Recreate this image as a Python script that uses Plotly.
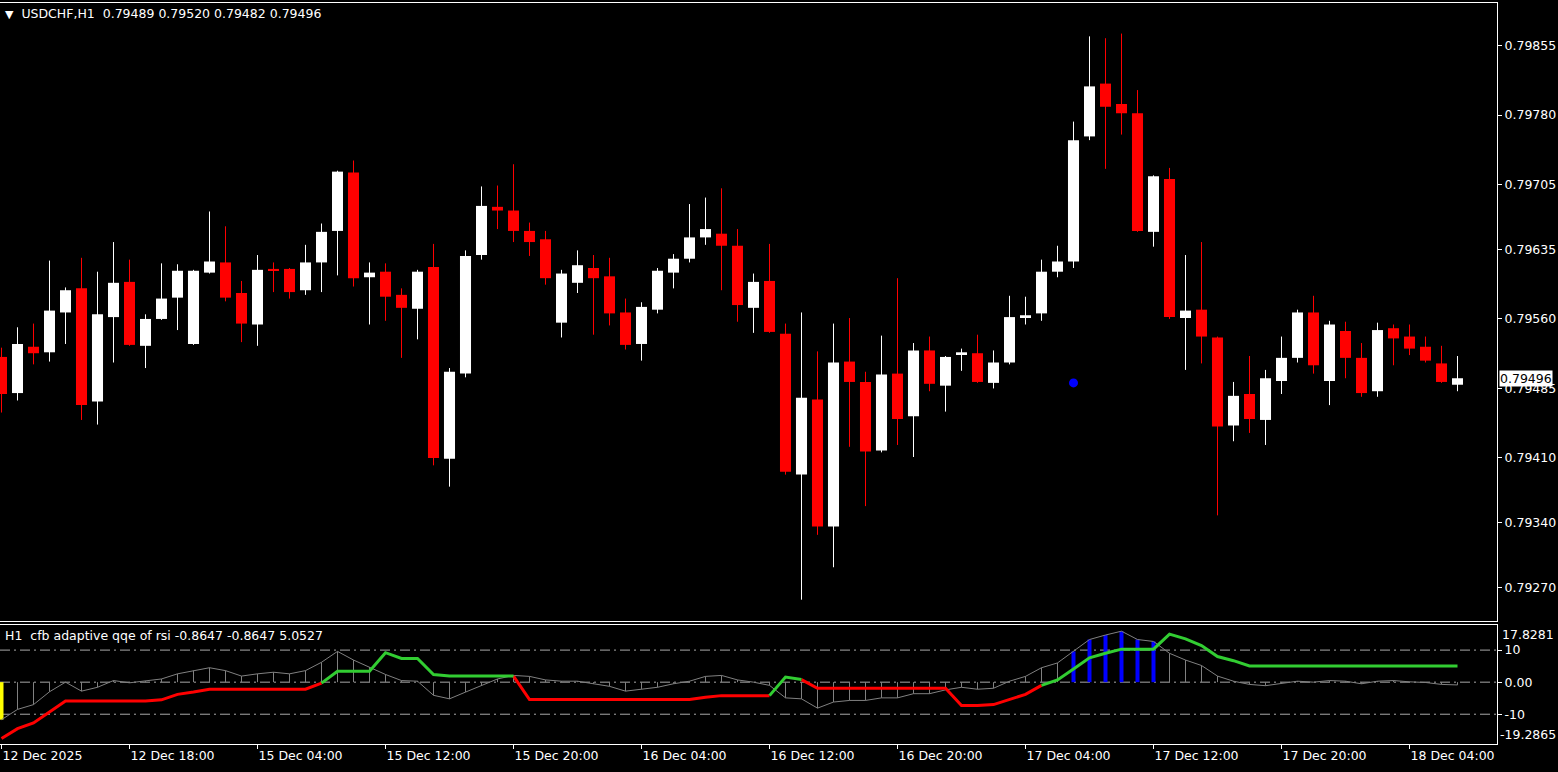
import plotly.graph_objects as go

# ---------------- data ----------------
symbol = "USDCHF"
timeframe = "H1"

open_ = [0.79519, 0.79480, 0.79530, 0.79524, 0.79567, 0.79593, 0.79471, 0.79562, 0.79600, 0.79531,
         0.79560, 0.79583, 0.79533, 0.79610, 0.79621, 0.79588, 0.79554, 0.79614, 0.79614, 0.79591,
         0.79621, 0.79655, 0.79718, 0.79605, 0.79611, 0.79586, 0.79571, 0.79616, 0.79409, 0.79501,
         0.79629, 0.79681, 0.79677, 0.79655, 0.79646, 0.79556, 0.79599, 0.79615, 0.79606, 0.79567,
         0.79533, 0.79570, 0.79610, 0.79625, 0.79648, 0.79652, 0.79639, 0.79572, 0.79601, 0.79544,
         0.79392, 0.79473, 0.79336, 0.79514, 0.79492, 0.79418, 0.79501, 0.79455, 0.79526, 0.79488,
         0.79522, 0.79523, 0.79491, 0.79513, 0.79562, 0.79566, 0.79611, 0.79622, 0.79757, 0.79814,
         0.79792, 0.79782, 0.79654, 0.79711, 0.79561, 0.79570, 0.79540, 0.79445, 0.79479, 0.79451,
         0.79493, 0.79518, 0.79567, 0.79493, 0.79547, 0.79518, 0.79482, 0.79550, 0.79541, 0.79530,
         0.79512, 0.79489]

high = [0.79529, 0.79551, 0.79555, 0.79623, 0.79594, 0.79626, 0.79611, 0.79643, 0.79624, 0.79565,
        0.79620, 0.79619, 0.79613, 0.79676, 0.79660, 0.79601, 0.79629, 0.79621, 0.79615, 0.79640,
        0.79663, 0.79720, 0.79731, 0.79621, 0.79620, 0.79593, 0.79613, 0.79641, 0.79507, 0.79634,
        0.79703, 0.79704, 0.79727, 0.79664, 0.79655, 0.79613, 0.79634, 0.79629, 0.79626, 0.79582,
        0.79578, 0.79615, 0.79630, 0.79684, 0.79691, 0.79701, 0.79657, 0.79609, 0.79641, 0.79555,
        0.79567, 0.79525, 0.79555, 0.79561, 0.79503, 0.79542, 0.79604, 0.79534, 0.79541, 0.79520,
        0.79528, 0.79543, 0.79526, 0.79585, 0.79584, 0.79624, 0.79639, 0.79773, 0.79865, 0.79863,
        0.79868, 0.79807, 0.79715, 0.79723, 0.79629, 0.79643, 0.79541, 0.79492, 0.79520, 0.79505,
        0.79541, 0.79570, 0.79585, 0.79558, 0.79557, 0.79534, 0.79556, 0.79554, 0.79554, 0.79541,
        0.79531, 0.79520]

low = [0.79459, 0.79472, 0.79511, 0.79514, 0.79533, 0.79451, 0.79446, 0.79513, 0.79531, 0.79507,
       0.79559, 0.79548, 0.79532, 0.79609, 0.79579, 0.79535, 0.79531, 0.79589, 0.79582, 0.79586,
       0.79589, 0.79607, 0.79595, 0.79554, 0.79558, 0.79518, 0.79538, 0.79402, 0.79379, 0.79497,
       0.79624, 0.79657, 0.79643, 0.79628, 0.79597, 0.79540, 0.79588, 0.79543, 0.79553, 0.79527,
       0.79515, 0.79566, 0.79593, 0.79621, 0.79640, 0.79591, 0.79557, 0.79545, 0.79545, 0.79392,
       0.79257, 0.79327, 0.79292, 0.79422, 0.79358, 0.79416, 0.79424, 0.79411, 0.79482, 0.79460,
       0.79504, 0.79491, 0.79485, 0.79511, 0.79554, 0.79558, 0.79605, 0.79615, 0.79753, 0.79722,
       0.79759, 0.79654, 0.79638, 0.79560, 0.79505, 0.79512, 0.79348, 0.79428, 0.79437, 0.79424,
       0.79479, 0.79513, 0.79501, 0.79467, 0.79496, 0.79476, 0.79476, 0.79510, 0.79521, 0.79513,
       0.79491, 0.79482]

close = [0.79479, 0.79533, 0.79523, 0.79569, 0.79591, 0.79467, 0.79565, 0.79599, 0.79532, 0.79560,
         0.79582, 0.79612, 0.79612, 0.79622, 0.79583, 0.79555, 0.79613, 0.79612, 0.79589, 0.79621,
         0.79654, 0.79719, 0.79604, 0.79610, 0.79584, 0.79572, 0.79611, 0.79410, 0.79503, 0.79628,
         0.79682, 0.79677, 0.79655, 0.79643, 0.79604, 0.79609, 0.79618, 0.79604, 0.79566, 0.79532,
         0.79573, 0.79612, 0.79625, 0.79648, 0.79657, 0.79639, 0.79575, 0.79600, 0.79546, 0.79395,
         0.79475, 0.79336, 0.79513, 0.79492, 0.79417, 0.79500, 0.79452, 0.79526, 0.79490, 0.79519,
         0.79524, 0.79492, 0.79513, 0.79562, 0.79564, 0.79611, 0.79622, 0.79753, 0.79811, 0.79789,
         0.79782, 0.79655, 0.79714, 0.79562, 0.79569, 0.79541, 0.79444, 0.79477, 0.79452, 0.79496,
         0.79518, 0.79567, 0.79510, 0.79554, 0.79518, 0.79480, 0.79548, 0.79539, 0.79528, 0.79515,
         0.79492, 0.79496]

# signal dot drawn on the price chart
signal_bar = [67]
signal_price = [0.79491]

# time axis labels (every 8th H1 bar)
time_label_bars = [0, 8, 16, 24, 32, 40, 48, 56, 64, 72, 80, 88]
time_labels = ["12 Dec 2025", "12 Dec 18:00", "15 Dec 04:00", "15 Dec 12:00", "15 Dec 20:00",
               "16 Dec 04:00", "16 Dec 12:00", "16 Dec 20:00", "17 Dec 04:00", "17 Dec 12:00",
               "17 Dec 20:00", "18 Dec 04:00"]

# price axis labels
price_labels = ["0.79855", "0.79780", "0.79705", "0.79635", "0.79560",
                "0.79485", "0.79410", "0.79340", "0.79270"]
price_scale = [0.79234, 0.79901]

# indicator: cfb adaptive qqe of rsi
qqe = [-11.7, -8.5, -7.0, -3.0, 0.0, -2.8, -1.6, 0.5, -0.2, 0.3,
       1.0, 2.6, 3.6, 4.5, 3.6, 1.9, 2.6, 3.1, 2.6, 3.6,
       6.2, 9.6, 6.9, 4.7, 2.4, 0.5, 0.3, -4.1, -5.2, -3.1,
       -1.0, 1.0, 2.1, 1.8, 0.7, 0.3, 0.3, -0.5, -1.3, -2.8,
       -2.1, -1.6, -0.5, 0.3, 1.8, 2.1, 0.7, 0.0, -1.0, -4.9,
       -5.2, -8.1, -6.2, -5.7, -5.7, -4.9, -4.9, -3.6, -3.6, -2.4,
       -1.6, -2.2, -1.9, 0.3, 1.8, 4.5, 6.0, 9.6, 13.3, 14.7,
       15.9, 13.3, 12.7, 9.0, 6.9, 5.2, 1.9, 0.3, -0.7, -1.1,
       -0.3, 0.3, 0.0, 0.5, 0.3, -0.5, 0.3, 0.5, 0.1, -0.1,
       -0.7, -0.8647]

trail = [-17.6, -14.5, -12.7, -9.3, -5.9, -5.9, -5.9, -5.9, -5.9, -5.9,
         -5.5, -3.8, -3.1, -2.2, -2.2, -2.2, -2.2, -2.2, -2.2, -2.2,
         -0.3, 3.4, 3.4, 3.4, 9.2, 7.4, 7.4, 2.4, 1.9, 1.9,
         1.9, 1.9, 1.9, -5.4, -5.4, -5.4, -5.4, -5.4, -5.4, -5.4,
         -5.4, -5.4, -5.4, -5.4, -4.7, -4.2, -4.2, -4.2, -4.2, 1.6,
         0.8, -1.9, -1.9, -1.9, -1.9, -1.9, -1.9, -1.9, -1.9, -1.9,
         -7.3, -7.3, -7.0, -5.5, -3.8, -1.0, 0.7, 4.1, 7.6, 9.0,
         10.3, 10.3, 10.3, 15.0, 13.5, 11.4, 8.0, 6.7, 5.0527,
         5.0527, 5.0527, 5.0527, 5.0527, 5.0527, 5.0527, 5.0527, 5.0527, 5.0527,
         5.0527, 5.0527, 5.0527, 5.0527]

# trend state of the trail segment ending at each bar (+1 up / -1 down)
trend = ([-1] * 21) + ([1] * 12) + ([-1] * 16) + ([1] * 2) + ([-1] * 15) + ([1] * 26)

strong_bars = [67, 68, 69, 70, 71, 72]   # histogram bars drawn in blue
start_bars = [0]                          # histogram bar drawn in yellow

levels = [10, 0, -10]
level_labels = ["10", "0.00", "-10"]
ind_scale = [-19.2865, 17.8281]

# ---------------- layout geometry ----------------
W, H = 1558, 772
m_l, m_r, m_t, m_b = 0, 61, 3, 28
plot_h = H - m_t - m_b
main_dom = [(744 - 621) / plot_h, 1.0]
ind_dom = [0.0, (744 - 625) / plot_h]
x_range = [-1.5 / 16, (1497 - 1.5) / 16]

FONT = "DejaVu Sans"
FS = 12.5
BULL = "#ffffff"
BEAR = "#ff0000"

n = len(close)
fig = go.Figure()

# ---------------- candles ----------------
for is_bull, col in ((True, BULL), (False, BEAR)):
    sel = [i for i in range(n) if (close[i] >= open_[i]) == is_bull]
    wx, wy = [], []
    for i in sel:
        wx += [i, i, None]
        wy += [low[i], high[i], None]
    fig.add_trace(go.Scatter(x=wx, y=wy, mode="lines", line=dict(color=col, width=1),
                             xaxis="x2", yaxis="y", hoverinfo="skip", showlegend=False))
    base = [min(open_[i], close[i]) for i in sel]
    hgt = [max(abs(close[i] - open_[i]), 0.000011) for i in sel]
    fig.add_trace(go.Bar(x=sel, y=hgt, base=base, width=0.69,
                         marker=dict(color=col, line=dict(width=0)),
                         xaxis="x2", yaxis="y", hoverinfo="skip", showlegend=False))

fig.add_trace(go.Scatter(x=signal_bar, y=signal_price, mode="markers",
                         marker=dict(color="#0000ff", size=9),
                         xaxis="x2", yaxis="y", hoverinfo="skip", showlegend=False))

# ---------------- indicator ----------------
def seg_trace(bars, color, width):
    xs, ys = [], []
    for i in bars:
        xs += [i, i, None]
        ys += [0, qqe[i], None]
    return go.Scatter(x=xs, y=ys, mode="lines", line=dict(color=color, width=width),
                      xaxis="x", yaxis="y2", hoverinfo="skip", showlegend=False)

gray_bars = [i for i in range(n) if i not in strong_bars and i not in start_bars]
fig.add_trace(seg_trace(gray_bars, "#808080", 1))
fig.add_trace(seg_trace(strong_bars, "#0000ff", 4))
fig.add_trace(seg_trace(start_bars, "#ffff00", 4))

fig.add_trace(go.Scatter(x=list(range(n)), y=qqe, mode="lines",
                         line=dict(color="#808080", width=1),
                         xaxis="x", yaxis="y2", hoverinfo="skip", showlegend=False))

for state, col in ((-1, "#ff0000"), (1, "#32cd32")):
    xs, ys = [], []
    i = 1
    while i < n:
        if trend[i] == state:
            j = i
            while j + 1 < n and trend[j + 1] == state:
                j += 1
            xs += list(range(i - 1, j + 1)) + [None]
            ys += trail[i - 1:j + 1] + [None]
            i = j + 1
        else:
            i += 1
    fig.add_trace(go.Scatter(x=xs, y=ys, mode="lines", line=dict(color=col, width=3),
                             xaxis="x", yaxis="y2", hoverinfo="skip", showlegend=False))

# level lines
for lv in levels:
    fig.add_shape(type="line", xref="x domain", yref="y2", x0=0, x1=1, y0=lv, y1=lv,
                  line=dict(color="#a8a8a8", width=1, dash="10px,4px,2px,4px"), layer="below")

# ---------------- axes ----------------
axis_common = dict(showgrid=False, zeroline=False, showline=True, mirror=True,
                   linecolor="#ffffff", linewidth=1, automargin=False,
                   tickfont=dict(family=FONT, size=FS, color="#ffffff"))

fig.update_layout(
    width=W, height=H,
    margin=dict(l=m_l, r=m_r, t=m_t, b=m_b, autoexpand=False),
    paper_bgcolor="#000000", plot_bgcolor="#000000",
    barmode="overlay", showlegend=False,
    xaxis=dict(domain=[0, 1], anchor="y2", range=x_range,
               tickvals=time_label_bars, ticktext=time_labels,
               ticks="outside", ticklen=4, tickcolor="#ffffff",
               ticklabelposition="outside right", **axis_common),
    xaxis2=dict(domain=[0, 1], anchor="y", matches="x", showticklabels=False, ticks="",
                **axis_common),
    yaxis=dict(domain=main_dom, anchor="x2", side="right", range=price_scale,
               tickvals=[float(s) for s in price_labels], ticktext=price_labels,
               ticks="outside", ticklen=4, tickcolor="#ffffff", **axis_common),
    yaxis2=dict(domain=ind_dom, anchor="x", side="right", range=ind_scale,
                tickvals=levels, ticktext=level_labels,
                ticks="outside", ticklen=4, tickcolor="#ffffff", **axis_common),
)

title_txt = ("<span style='font-size:11px'>\u25bc</span>\u00a0\u00a0" + f"{symbol},{timeframe}\u00a0\u00a0"
             + " ".join(f"{v:.5f}" for v in (open_[-1], high[-1], low[-1], close[-1])))
ind_txt = (f"{timeframe}\u00a0\u00a0cfb adaptive qqe of rsi {qqe[-1]:.4f} {qqe[-1]:.4f} {trail[-1]:.4f}")

fig.add_annotation(xref="paper", yref="paper", x=0, y=1, xanchor="left", yanchor="top",
                   xshift=3, yshift=-1, text=title_txt, showarrow=False,
                   font=dict(family=FONT, size=FS, color="#ffffff"))
fig.add_annotation(xref="paper", yref="paper", x=0, y=ind_dom[1], xanchor="left", yanchor="top",
                   xshift=3, yshift=-1, text=ind_txt, showarrow=False,
                   font=dict(family=FONT, size=FS, color="#ffffff"))
fig.add_annotation(xref="paper", yref="y2", x=1, y=ind_scale[1], xanchor="left", yanchor="top",
                   xshift=3, text=f"{ind_scale[1]:.4f}", showarrow=False,
                   font=dict(family=FONT, size=FS, color="#ffffff"))
fig.add_annotation(xref="paper", yref="y2", x=1, y=ind_scale[0], xanchor="left", yanchor="bottom",
                   xshift=1, text=f"{ind_scale[0]:.4f}", showarrow=False,
                   font=dict(family=FONT, size=FS, color="#ffffff"))
fig.add_annotation(xref="paper", yref="y", x=1, y=close[-1], xanchor="left", yanchor="middle",
                   xshift=2, text=f"{close[-1]:.5f}", showarrow=False, bgcolor="#ffffff",
                   borderpad=0, font=dict(family=FONT, size=FS, color="#000000"))

fig.write_html("out.html",
               config={"displayModeBar": False},
               post_script="document.body.style.margin='0px';"
                           "document.body.style.background='#000000';")
